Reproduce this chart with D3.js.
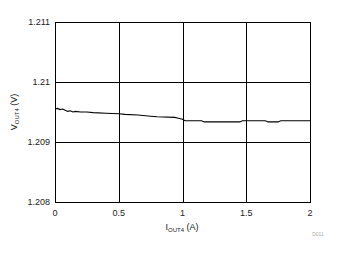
<!DOCTYPE html>
<meta charset="utf-8">
<style>
body { margin: 0; background: #fff; }
text { font-family: "Liberation Sans", Arial, sans-serif; fill: #222; }
.grid line { stroke: #000; stroke-width: 1px; shape-rendering: crispEdges; }
</style>
<body>
<svg width="339" height="254"></svg>
<script src="https://d3js.org/d3.v7.min.js"></script>
<script>
// Iout4 (A) vs Vout4 (V)
var iout = [0, 0.02, 0.04, 0.06, 0.08, 0.10, 0.12, 0.14, 0.16, 0.20, 0.25, 0.30, 0.40, 0.50,
            0.55, 0.65, 0.75, 0.80, 0.94, 0.96, 1.00, 1.02, 1.15, 1.17, 1.45, 1.47, 1.65, 1.67,
            1.75, 1.77, 2.0];
var vout = [1.20955, 1.20956, 1.20954, 1.20955, 1.20953, 1.20951, 1.20952, 1.20950, 1.20951,
            1.20950, 1.20950, 1.20949, 1.20948, 1.20947, 1.20946, 1.20945, 1.20943, 1.20942,
            1.20941, 1.20940, 1.20938, 1.209355, 1.209355, 1.209335, 1.209335, 1.209355,
            1.209355, 1.209335, 1.209335, 1.209355, 1.209355];
var xTicks = [0, 0.5, 1, 1.5, 2];
var yTicks = [1.208, 1.209, 1.21, 1.211];

var svg = d3.select("svg");
var mLeft = 55, mRight = 310, mTop = 22, mBottom = 202;

var x = d3.scaleLinear().domain([0, 2]).range([mLeft, mRight]);
var y = d3.scaleLinear().domain([1.208, 1.211]).range([mBottom, mTop]);

var grid = svg.append("g").attr("class", "grid");
grid.selectAll(".vx").data(xTicks).enter().append("line")
    .attr("x1", function(d) { return Math.round(x(d)) + 0.5; })
    .attr("x2", function(d) { return Math.round(x(d)) + 0.5; })
    .attr("y1", mTop).attr("y2", mBottom);
grid.selectAll(".hy").data(yTicks).enter().append("line")
    .attr("y1", function(d) { return Math.round(y(d)) + 0.5; })
    .attr("y2", function(d) { return Math.round(y(d)) + 0.5; })
    .attr("x1", mLeft).attr("x2", mRight + 1);

var line = d3.line()
    .x(function(d, i) { return x(iout[i]); })
    .y(function(d) { return y(d); });

svg.append("path")
    .datum(vout)
    .attr("d", line)
    .attr("fill", "none")
    .attr("stroke", "#000")
    .attr("stroke-width", 1.1);

svg.selectAll(".xl").data(xTicks).enter().append("text")
    .attr("x", function(d) { return x(d); })
    .attr("y", 216)
    .attr("text-anchor", "middle")
    .attr("font-size", 9)
    .text(function(d) { return d; });

svg.selectAll(".yl").data(yTicks).enter().append("text")
    .attr("x", 50)
    .attr("y", function(d) { return y(d) + 3; })
    .attr("text-anchor", "end")
    .attr("font-size", 9)
    .text(function(d) { return d; });

var xt = svg.append("text")
    .attr("x", 182).attr("y", 230)
    .attr("text-anchor", "middle")
    .attr("font-size", 9);
xt.append("tspan").text("I");
xt.append("tspan").attr("font-size", 6).attr("dy", 1.5).text("OUT4");
xt.append("tspan").attr("dy", -1.5).text(" (A)");

var yt = svg.append("text")
    .attr("transform", "translate(17,112) rotate(-90)")
    .attr("text-anchor", "middle")
    .attr("font-size", 9);
yt.append("tspan").text("V");
yt.append("tspan").attr("font-size", 6).attr("dy", 1.5).text("OUT4");
yt.append("tspan").attr("dy", -1.5).text(" (V)");

svg.append("text")
    .attr("x", 318).attr("y", 236)
    .attr("text-anchor", "middle")
    .attr("font-size", 5)
    .style("fill", "#aaa")
    .text("D011");
</script>
</body>
